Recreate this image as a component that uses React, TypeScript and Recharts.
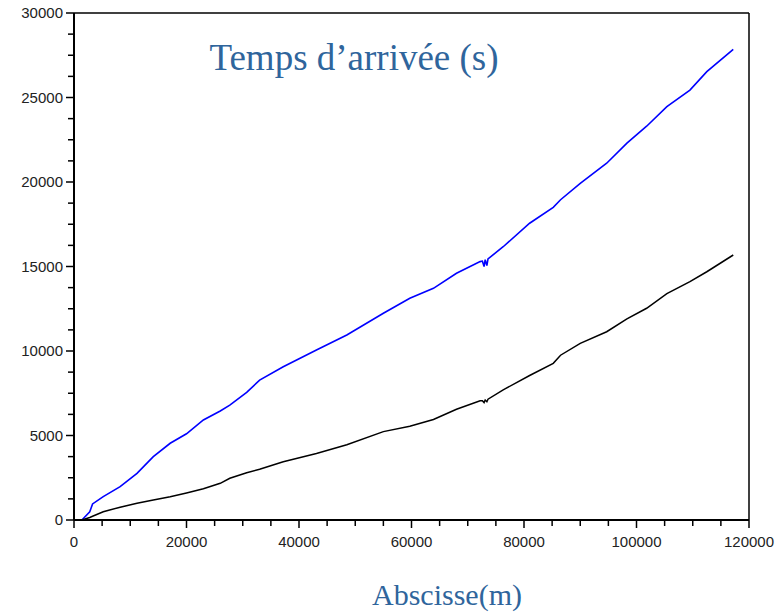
import { LineChart, Line, XAxis, YAxis, ReferenceLine } from 'recharts'

// abscissa (m)
const distances = [
  1400, 2800, 3300, 5200, 8200, 11200, 14100, 17100, 20000, 23000, 26000, 27700,
  30700, 33000, 37200, 43100, 48500, 55000, 59700, 63900, 68000, 72200, 72600,
  72900, 73100, 73400, 73600, 76300, 81000, 85200, 86500, 90000, 94700, 98300,
  101800, 105400, 109500, 112500, 117200,
]

// arrival time, blue curve (s)
const blueTimes = [
  0, 480, 950, 1380, 1970, 2760, 3750, 4540, 5100, 5920, 6450, 6800,
  7550, 8280, 9070, 10060, 10950, 12230, 13120, 13710, 14600, 15290, 15320,
  15000, 15400, 15050, 15450, 16170, 17560, 18500, 18950, 19920, 21110, 22300,
  23300, 24460, 25440, 26530, 27850,
]

// arrival time, black curve (s)
const blackTimes = [
  0, 150, 220, 490, 760, 990, 1180, 1380, 1600, 1850, 2170, 2470,
  2800, 3000, 3450, 3940, 4450, 5230, 5550, 5950, 6550, 7050, 7060,
  6950, 7100, 7000, 7150, 7700, 8550, 9270, 9750, 10450, 11140, 11900,
  12530, 13400, 14100, 14690, 15680,
]

const xMajor = [0, 20000, 40000, 60000, 80000, 100000, 120000]
const yMajor = [0, 5000, 10000, 15000, 20000, 25000, 30000]
const xTicks = Array.from({ length: 25 }, (_, i) => i * 5000)
const yTicks = Array.from({ length: 25 }, (_, i) => i * 1250)

const data = distances.map((d, i) => ({ x: d, blue: blueTimes[i], black: blackTimes[i] }))

const TICK_SIZE = 8
const TICK_MARGIN = 8
const TICK_FONT = { fontFamily: '"Liberation Sans", Arial, sans-serif', fontSize: 15, fill: '#222' }

const XTick = ({ x, y, payload }: any) => {
  const major = xMajor.includes(payload.value)
  const axisY = y - TICK_SIZE - TICK_MARGIN
  return (
    <g>
      <line x1={x} x2={x} y1={axisY} y2={axisY + (major ? 8 : 6)} stroke="#000" strokeWidth={1.5} />
      {major && (
        <text x={x} y={axisY + 27} textAnchor="middle" {...TICK_FONT}>
          {payload.value}
        </text>
      )}
    </g>
  )
}

const YTick = ({ x, y, payload }: any) => {
  const major = yMajor.includes(payload.value)
  const axisX = x + TICK_SIZE + 3
  return (
    <g>
      <line x1={axisX} x2={axisX - (major ? 8 : 6)} y1={y} y2={y} stroke="#000" strokeWidth={1.5} />
      {major && (
        <text x={axisX - 11} y={y + 5} textAnchor="end" {...TICK_FONT}>
          {payload.value}
        </text>
      )}
    </g>
  )
}

export default function App() {
  return (
    <div style={{ position: 'absolute', left: 0, top: 0, width: 775, height: 613, background: '#fff' }}>
      <LineChart
        width={775}
        height={613}
        data={data}
        margin={{ top: 13, right: 26, bottom: 63, left: 14 }}
      >
        <XAxis
          dataKey="x"
          type="number"
          domain={[0, 120000]}
          ticks={xTicks}
          interval={0}
          allowDataOverflow
          height={30}
          stroke="#000"
          strokeWidth={2}
          tickLine={false}
          tickSize={TICK_SIZE}
          tickMargin={TICK_MARGIN}
          tick={<XTick />}
        />
        <YAxis
          type="number"
          domain={[0, 30000]}
          ticks={yTicks}
          interval={0}
          allowDataOverflow
          width={60}
          stroke="#000"
          strokeWidth={2}
          tickLine={false}
          tickSize={TICK_SIZE}
          tickMargin={3}
          tick={<YTick />}
        />
        <ReferenceLine y={30000} stroke="#000" strokeWidth={1.5} ifOverflow="visible" />
        <ReferenceLine x={120000} stroke="#000" strokeWidth={1.5} ifOverflow="visible" />
        <Line
          type="linear"
          dataKey="blue"
          stroke="#0000ff"
          strokeWidth={1.6}
          dot={false}
          isAnimationActive={false}
        />
        <Line
          type="linear"
          dataKey="black"
          stroke="#000000"
          strokeWidth={1.5}
          dot={false}
          isAnimationActive={false}
        />
      </LineChart>
      <svg
        width={775}
        height={613}
        style={{ position: 'absolute', left: 0, top: 0, pointerEvents: 'none' }}
      >
        <text
          x={354}
          y={70}
          textAnchor="middle"
          fontFamily='"Liberation Serif", "Times New Roman", serif'
          fontSize={37}
          fill="#2f659c"
        >
          Temps d’arrivée (s)
        </text>
        <text
          x={447}
          y={605}
          textAnchor="middle"
          fontFamily='"Liberation Serif", "Times New Roman", serif'
          fontSize={30}
          fill="#2f659c"
        >
          Abscisse(m)
        </text>
      </svg>
    </div>
  )
}
